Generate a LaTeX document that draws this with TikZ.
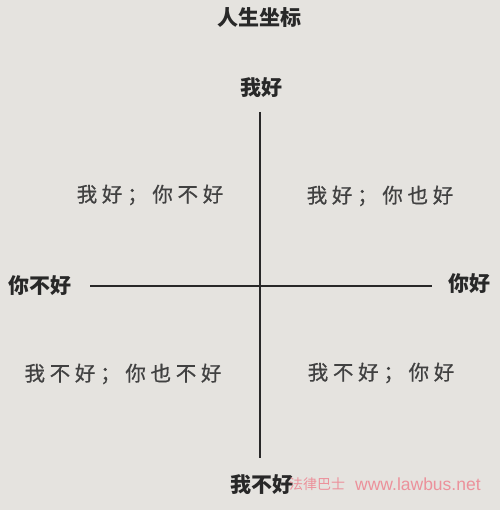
\documentclass[tikz,border=0pt]{standalone}
\usepackage{fontspec}
\newfontfamily\cjk{Noto Sans CJK SC}
\newfontfamily\cjkq[LetterSpace=23,FakeBold=0.6]{Noto Sans CJK SC}
\newfontfamily\wm{Liberation Sans}
\definecolor{bg}{RGB}{229,227,223}
\definecolor{ink}{RGB}{40,40,40}
\definecolor{qink}{RGB}{65,65,65}
\definecolor{wmpink}{RGB}{236,145,155}
\begin{document}
\begin{tikzpicture}[x=1pt,y=1pt,
  axislabel/.style={font=\cjk\fontsize{21}{21}\selectfont\bfseries, text=ink, inner sep=0pt},
  quad/.style={font=\cjkq\fontsize{20.5}{20.5}\selectfont, text=qink, inner sep=0pt},
  axisline/.style={draw=ink, line width=1.8pt}]
\fill[bg] (0,0) rectangle (500,510);
\useasboundingbox (0,0) rectangle (500,510);
\node[font=\cjk\fontsize{21}{21}\selectfont\bfseries, text=ink, inner sep=0pt] (title) at (259,492) {人生坐标};
\node[axislabel] (top) at (261,422) {我好};
\node[axislabel] (bottom) at (262,25) {我不好};
\node[axislabel] (left) at (40,224) {你不好};
\node[axislabel] (right) at (469,226) {你好};
\coordinate (vt) at (260,398);
\coordinate (vb) at (260,52);
\coordinate (hl) at (90,224);
\coordinate (hr) at (432,224);
\draw[axisline] (vt) -- (vb);
\draw[axisline] (hl) -- (hr);
\node[quad] (q1) at (150,315) {我好；你不好};
\node[quad] (q2) at (380,314) {我好；你也好};
\node[quad] (q3) at (123,136) {我不好；你也不好};
\node[quad] (q4) at (381,137) {我不好；你好};
\node[font=\cjk\fontsize{14}{14}\selectfont, text=wmpink, inner sep=0pt, anchor=west] (wm1) at (289,26) {法律巴士};
\node[font=\wm\fontsize{17.5}{17.5}\selectfont, text=wmpink, inner sep=0pt, anchor=west] (wm2) at (355,26) {www.lawbus.net};
\end{tikzpicture}
\end{document}
